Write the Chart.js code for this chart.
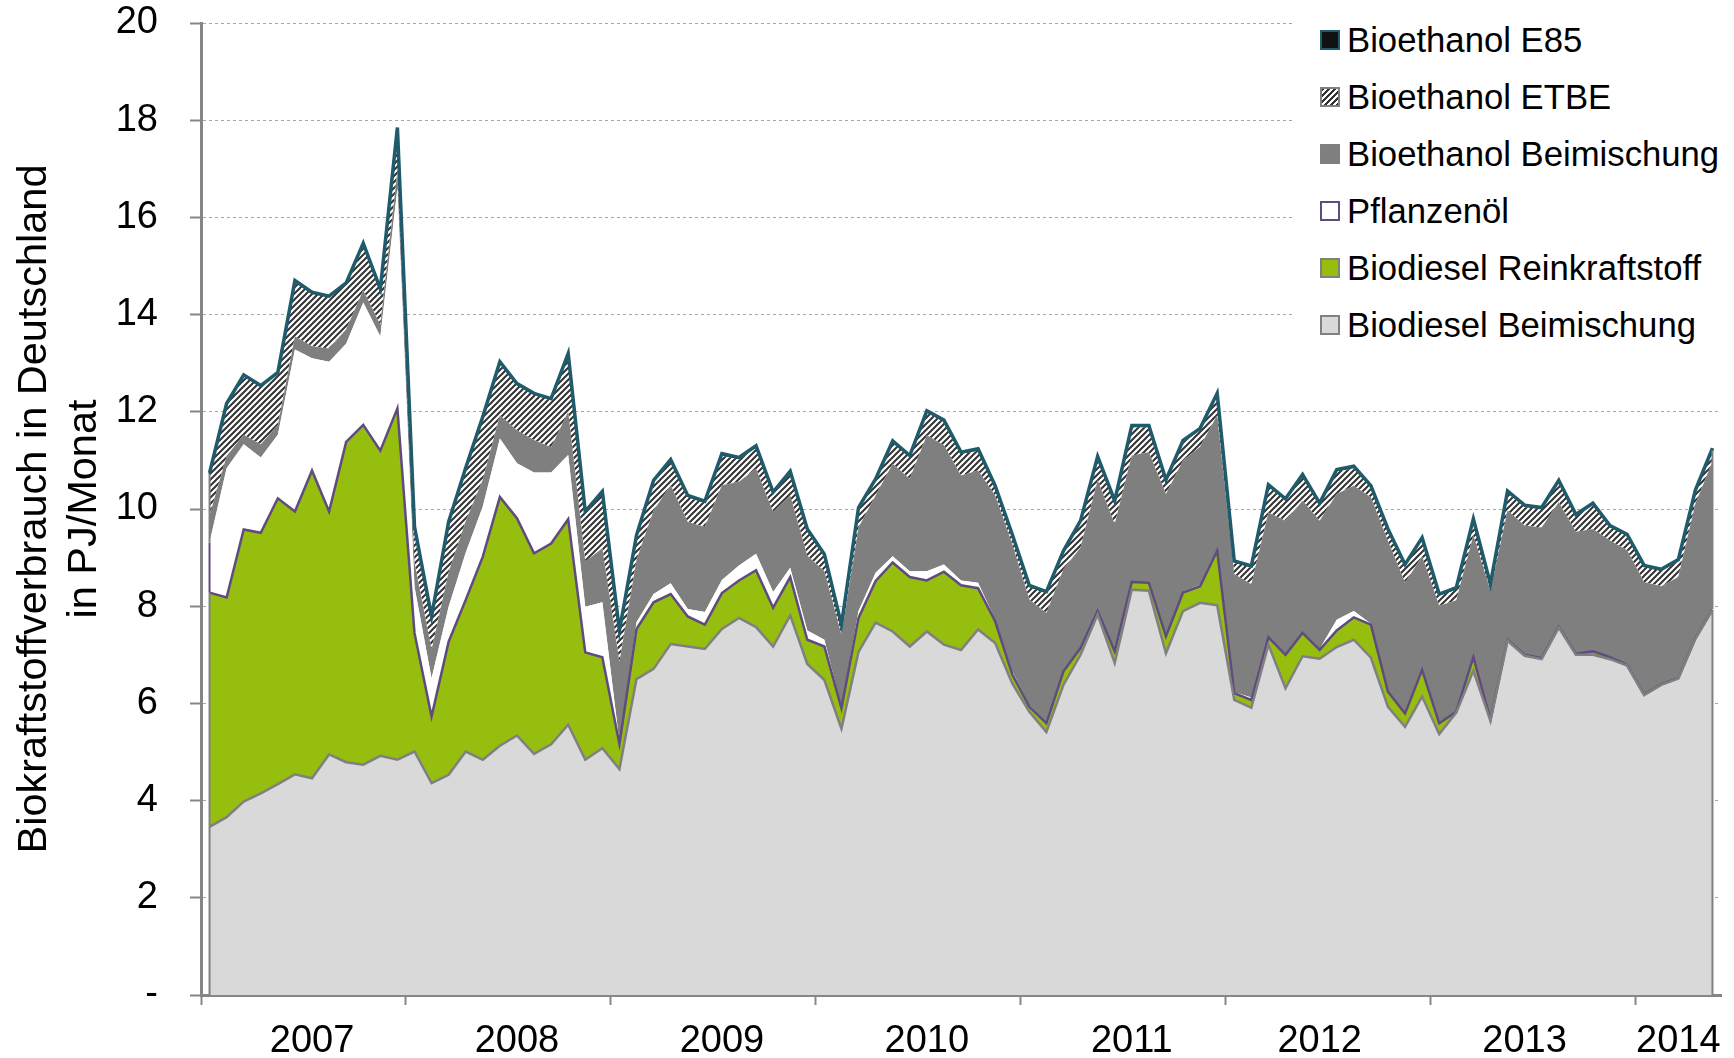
<!DOCTYPE html>
<html><head><meta charset="utf-8">
<script src="https://cdn.jsdelivr.net/npm/chart.js@4.4.0/dist/chart.umd.min.js"></script>
<style>
html,body{margin:0;padding:0;background:#fff;}
#wrap{position:relative;width:1734px;height:1058px;}
#legend{position:absolute;left:1292px;top:0;width:442px;height:355px;background:#fff;font-family:'Liberation Sans',Arial,sans-serif;font-size:34.7px;color:#000;}
.item{position:absolute;left:28px;height:40px;display:flex;align-items:center;white-space:nowrap;}
.sw{width:16px;height:16px;border:2px solid #808080;margin-right:7px;flex:none;}
</style></head><body>
<div id="wrap"><canvas id="c" width="1734" height="1058"></canvas><div id="legend"></div></div>
<script>
// ---- data (PJ / month), Jan 2007 .. May 2014 ----
const yearLabels = ['2007','2008','2009','2010','2011','2012','2013','2014'];
const yearLabelMonth = [6,18,30,42,54,65,77,86];   // month row that carries the year label
const seriesNames = ['Biodiesel Beimischung','Biodiesel Reinkraftstoff','Pflanzenöl','Bioethanol Beimischung','Bioethanol ETBE','Bioethanol E85'];
const biodieselBeimischung = [
 3.46,3.66,3.98,4.15,4.34,4.54,4.46,4.95,4.79,4.74,4.92,4.84,
 5.01,4.36,4.53,5.01,4.84,5.13,5.34,4.96,5.16,5.56,4.84,5.08,
 4.65,6.50,6.71,7.22,7.17,7.12,7.53,7.76,7.57,7.17,7.81,6.81,
 6.48,5.48,7.06,7.66,7.48,7.17,7.48,7.21,7.10,7.52,7.24,6.41,
 5.83,5.41,6.38,7.00,7.83,6.83,8.34,8.32,7.03,7.90,8.07,8.02,
 6.07,5.91,7.21,6.31,6.97,6.92,7.16,7.31,6.94,5.93,5.52,6.14,
 5.37,5.81,6.67,5.64,7.29,6.98,6.91,7.56,7.00,7.00,6.91,6.78,
 6.17,6.38,6.51,7.33,7.92];
const biodieselRein = [
 4.82,4.52,5.60,5.36,5.88,5.41,6.33,5.00,6.59,6.99,6.28,7.23,
 2.44,1.37,2.74,3.12,4.18,5.12,4.47,4.13,4.13,4.23,2.21,1.87,
 0.51,1.03,1.37,1.03,0.62,0.50,0.74,0.77,1.17,0.80,0.79,0.50,
 0.69,0.42,0.70,0.86,1.42,1.43,1.05,1.50,1.33,0.85,0.45,0.19,
 0.10,0.18,0.28,0.14,0.07,0.24,0.16,0.16,0.35,0.38,0.34,1.12,
 0.14,0.16,0.15,0.69,0.48,0.18,0.34,0.46,0.68,0.31,0.27,0.55,
 0.22,0.02,0.28,0.02,0.02,0.02,0.02,0.02,0.02,0.07,0.04,0.01,
 0.01,0.01,0.01,0.01,0.01];
const pflanzenoel = [
 1.03,2.66,1.75,1.55,1.31,3.33,2.31,3.08,2.02,2.52,2.35,4.53,
 0.95,0.79,0.72,0.97,1.03,1.20,1.13,1.66,1.46,1.32,0.94,1.13,
 0.04,0.14,0.17,0.22,0.15,0.26,0.27,0.31,0.34,0.32,0.19,0.19,
 0.14,0.03,0.14,0.17,0.13,0.12,0.19,0.15,0.10,0.11,0.03,0.06,
 0.02,0.01,0.01,0.01,0.02,0.01,0.01,0.01,0.02,0.02,0.03,0.02,
 0.02,0.05,0.02,0.02,0.02,0.02,0.22,0.13,0.02,0.01,0.01,0.01,
 0.01,0.01,0.01,0.01,0.01,0.01,0.01,0.01,0.01,0.01,0.01,0.01,
 0.01,0.01,0.01,0.01,0.01];
const bioethanolBeimischung = [
 0.55,0.25,0.20,0.27,0.20,0.27,0.25,0.27,0.30,0.25,0.24,0.35,
 0.50,0.58,0.71,0.65,0.55,0.48,0.68,0.67,0.52,0.89,0.93,1.11,
 1.65,1.28,1.72,2.02,1.79,1.75,1.95,1.72,1.75,1.65,1.49,1.54,
 1.41,1.48,1.72,1.59,1.90,1.90,2.80,2.45,2.16,2.31,2.56,2.62,
 2.19,2.26,2.09,2.06,2.67,2.61,2.59,2.68,2.91,2.70,2.84,2.77,
 2.43,2.33,2.55,2.74,2.70,2.64,2.59,2.58,2.60,3.09,2.68,2.33,
 2.41,2.28,2.50,2.65,2.65,2.65,2.68,2.55,2.50,2.51,2.39,2.35,
 2.31,2.01,2.07,2.76,3.03];
const bioethanolETBE = [
 0.86,1.06,1.21,1.19,1.06,1.13,1.09,1.06,0.93,0.95,0.72,0.88,
 0.71,0.66,1.01,1.07,1.27,1.07,0.93,0.93,0.97,1.17,1.00,1.14,
 0.61,0.47,0.58,0.49,0.51,0.49,0.61,0.46,0.43,0.37,0.46,0.51,
 0.31,0.17,0.37,0.30,0.43,0.44,0.46,0.48,0.44,0.41,0.16,0.16,
 0.25,0.40,0.34,0.51,0.45,0.44,0.58,0.51,0.25,0.37,0.34,0.41,
 0.23,0.34,0.53,0.41,0.50,0.32,0.46,0.36,0.20,0.21,0.34,0.34,
 0.20,0.22,0.30,0.10,0.36,0.38,0.37,0.41,0.32,0.49,0.27,0.29,
 0.30,0.31,0.32,0.24,0.24];
const bioethanolE85 = [
 0.02,0.02,0.02,0.02,0.02,0.02,0.02,0.02,0.02,0.02,0.02,0.02,
 0.03,0.03,0.03,0.03,0.03,0.03,0.03,0.03,0.03,0.03,0.03,0.03,
 0.04,0.04,0.04,0.04,0.04,0.04,0.04,0.04,0.04,0.04,0.04,0.04,
 0.04,0.04,0.04,0.04,0.04,0.04,0.04,0.04,0.04,0.04,0.04,0.04,
 0.04,0.04,0.04,0.04,0.04,0.04,0.04,0.04,0.04,0.04,0.04,0.04,
 0.04,0.04,0.04,0.04,0.04,0.04,0.04,0.04,0.04,0.04,0.04,0.04,
 0.04,0.04,0.04,0.04,0.04,0.04,0.04,0.04,0.04,0.04,0.04,0.04,
 0.04,0.04,0.04,0.04,0.04];
const yTickMax = 20, yTickStep = 2;

// ---- styling ----
function hatchPattern(){
  const c=document.createElement('canvas'); c.width=6; c.height=6;
  const g=c.getContext('2d');
  g.fillStyle='#ffffff'; g.fillRect(0,0,6,6);
  g.strokeStyle='#333333'; g.lineWidth=2;
  g.beginPath();
  g.moveTo(-1,7); g.lineTo(7,-1);
  g.moveTo(-4,4); g.lineTo(4,-4);
  g.moveTo(2,10); g.lineTo(10,2);
  g.stroke();
  return g.createPattern(c,'repeat');
}
const TEAL='#1f5b6b', PURPLE='#5f4b7d', GREY='#808080';
const fills=['#d9d9d9','#96be0e','#ffffff','#7f7f7f',hatchPattern(),'#000000'];
const lineColors=[GREY,PURPLE,'#ffffff',GREY,GREY,TEAL];
const lineWidths=[2.5,2.5,0,0,0,3.5];
const edgeColors=[GREY,GREY,PURPLE,GREY,GREY,TEAL];
const legendBorders=[GREY,GREY,PURPLE,GREY,GREY,TEAL];
const legendFills=['#d9d9d9','#96be0e','#ffffff','#7f7f7f','repeating-linear-gradient(-45deg,#333 0 1.6px,#fff 1.6px 4.2px)','#111'];

const allSeries=[biodieselBeimischung,biodieselRein,pflanzenoel,bioethanolBeimischung,bioethanolETBE,bioethanolE85];
const nMonths=biodieselBeimischung.length;
const datasets=allSeries.map((arr,k)=>({
  label:seriesNames[k],
  data:arr.map((v,i)=>({x:i+0.5,y:v})),
  backgroundColor:fills[k],
  borderColor:lineColors[k],
  borderWidth:lineWidths[k],
  fill:k===0?'origin':'-1',
  pointRadius:0,pointHoverRadius:0,tension:0,
  borderJoinStyle:'miter'
}));

const boundaries=[]; 
for(let y=0;y<yearLabels.length;y++) boundaries.push(y*12);
const mids=yearLabelMonth.map(m=>m+0.5);

const edgePlugin={id:'edges',afterDatasetsDraw(chart){
  const ctx=chart.ctx, ys=chart.scales.y;
  const metas=chart.getSortedVisibleDatasetMetas();
  [0,nMonths-1].forEach(idx=>{
    let prev=ys.getPixelForValue(0);
    metas.forEach((m,k)=>{
      const p=m.data[idx];
      if(Math.abs(prev-p.y)>0.5){
        ctx.save(); ctx.strokeStyle=edgeColors[k]; ctx.lineWidth=2;
        ctx.beginPath(); ctx.moveTo(p.x,prev); ctx.lineTo(p.x,p.y); ctx.stroke(); ctx.restore();
      }
      prev=p.y;
    });
  });
}};

const FONT="'Liberation Sans', Arial, sans-serif";
new Chart(document.getElementById('c'),{
  type:'line',
  data:{datasets},
  plugins:[edgePlugin],
  options:{
    responsive:false,animation:false,events:[],
    layout:{padding:{top:23,right:13,left:0,bottom:0}},
    plugins:{legend:{display:false},tooltip:{enabled:false},filler:{drawTime:'beforeDatasetsDraw'}},
    scales:{
      x:{type:'linear',min:0,max:nMonths,z:1,
        afterBuildTicks:s=>{s.ticks=[...boundaries,...mids].sort((a,b)=>a-b).map(v=>({value:v}));},
        afterFit:s=>{s.height=63;s.paddingLeft=0;s.paddingRight=0;},
        ticks:{autoSkip:false,maxRotation:0,minRotation:0,padding:14,color:'#000',font:{family:FONT,size:38},
          callback:(v)=>{const j=mids.indexOf(v);return j>=0?yearLabels[j]:'';}},
        grid:{drawOnChartArea:false,drawTicks:true,tickLength:10,tickWidth:2,
          tickColor:c=>boundaries.includes(c.tick&&c.tick.value)?'#868686':'rgba(0,0,0,0)',
          color:'rgba(0,0,0,0)'},
        border:{display:true,color:'#868686',width:3}
      },
      y:{stacked:true,min:0,max:yTickMax,
        afterFit:s=>{s.width=201;s.paddingTop=0;s.paddingBottom=0;},
        ticks:{stepSize:yTickStep,padding:32,color:'#000',font:{family:FONT,size:38},
          callback:v=>v===0?'-':String(v)},
        grid:{color:'#a6a6a6',lineWidth:1,drawTicks:true,tickLength:11,tickColor:'#868686',tickWidth:2},
        border:{display:true,color:'#868686',width:3,dash:[3,3]},
        title:{display:true,text:['Biokraftstoffverbrauch in Deutschland','in PJ/Monat'],color:'#000',
          font:{family:FONT,size:41.5,lineHeight:1.2},padding:{top:10,bottom:0}}
      }
    }
  }
});

// ---- legend (top to bottom, reversed stacking order) ----
const lg=document.getElementById('legend');
const rowCenters=[40,97,154,211,268,325];
for(let r=0;r<6;r++){
  const k=5-r;
  const it=document.createElement('div'); it.className='item'; it.style.top=(rowCenters[r]-20)+'px';
  const sw=document.createElement('div'); sw.className='sw';
  sw.style.background=legendFills[k]; sw.style.borderColor=legendBorders[k];
  const tx=document.createElement('span'); tx.textContent=seriesNames[k];
  it.appendChild(sw); it.appendChild(tx); lg.appendChild(it);
}
</script>
</body></html>
